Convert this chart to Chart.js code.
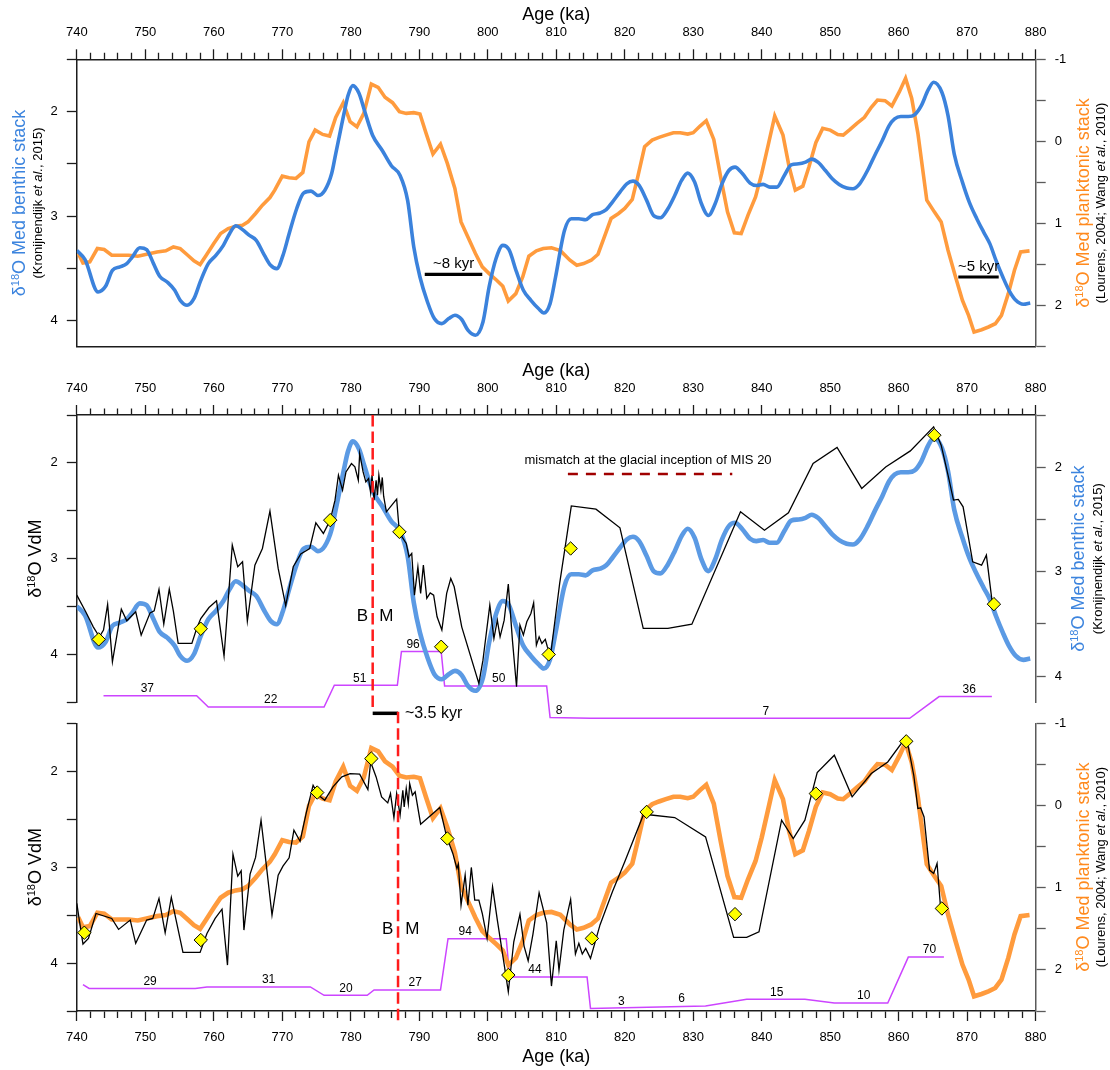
<!DOCTYPE html>
<html>
<head>
<meta charset="utf-8">
<title>δ18O records 740–880 ka</title>
<script src="https://cdn.jsdelivr.net/npm/chart.js@4.4.1/dist/chart.umd.min.js"></script>
<style>
  html, body { margin: 0; padding: 0; background: #fff; }
  #wrap { position: relative; width: 1110px; height: 1070px; }
  #wrap canvas { position: absolute; left: 0; top: 0; }
</style>
</head>
<body>
<div id="wrap">
  <canvas id="panelTop" width="1110" height="1070"></canvas>
  <canvas id="panelMid" width="1110" height="1070"></canvas>
  <canvas id="panelBot" width="1110" height="1070"></canvas>
</div>
<script>
// ---------------- data ----------------
// Mediterranean benthic stack (Kronijnendijk et al., 2015)
const benthicAge = [740.0, 741.2, 743.1, 744.2, 745.2, 746.3, 747.3, 748.1, 749.2, 750.2, 751.2, 752.1, 753.2, 754.3, 755.1, 756.1, 757.1, 758.1, 759.2, 760.3, 761.4, 762.3, 763.2, 764.2, 765.2, 766.2, 767.4, 768.3, 769.2, 770.1, 771.0, 772.1, 773.1, 774.2, 775.2, 776.2, 777.2, 777.8, 778.4, 779.1, 779.6, 780.3, 781.2, 782.0, 783.2, 784.6, 785.9, 787.2, 788.3, 789.2, 790.1, 791.2, 792.2, 793.3, 794.3, 795.2, 796.2, 797.1, 798.2, 799.3, 800.2, 801.2, 802.2, 803.1, 804.2, 805.2, 806.3, 807.4, 808.2, 809.1, 809.9, 811.2, 812.2, 813.3, 814.3, 815.3, 816.4, 817.3, 818.2, 819.3, 820.3, 821.2, 822.1, 823.2, 824.2, 825.2, 826.3, 827.3, 828.3, 829.2, 830.2, 831.2, 832.2, 833.2, 834.2, 835.2, 836.1, 837.2, 838.3, 839.2, 840.2, 841.2, 842.2, 843.3, 844.3, 845.4, 846.4, 847.3, 848.2, 849.3, 850.3, 851.3, 852.4, 853.3, 854.3, 855.5, 856.5, 857.6, 858.6, 859.4, 860.3, 861.4, 862.3, 863.3, 864.3, 865.1, 866.3, 867.2, 868.1, 869.3, 870.3, 871.4, 872.4, 873.3, 874.2, 875.2, 876.1, 877.1, 878.2, 879.2];
const benthicD18O = [3.33, 3.417, 3.726, 3.672, 3.519, 3.487, 3.455, 3.392, 3.303, 3.322, 3.455, 3.576, 3.631, 3.710, 3.806, 3.853, 3.79, 3.615, 3.455, 3.376, 3.28, 3.169, 3.092, 3.13, 3.185, 3.232, 3.376, 3.471, 3.503, 3.376, 3.169, 2.93, 2.78, 2.761, 2.803, 2.755, 2.596, 2.404, 2.213, 1.99, 1.847, 1.752, 1.825, 1.99, 2.229, 2.373, 2.516, 2.611, 2.85, 3.296, 3.583, 3.822, 3.981, 4.029, 3.981, 3.949, 3.99, 4.092, 4.14, 4.013, 3.678, 3.408, 3.28, 3.322, 3.535, 3.71, 3.806, 3.885, 3.927, 3.838, 3.583, 3.137, 3.025, 3.025, 3.035, 2.987, 2.971, 2.939, 2.866, 2.771, 2.691, 2.666, 2.707, 2.85, 2.994, 3.016, 2.93, 2.803, 2.659, 2.589, 2.675, 2.882, 2.994, 2.882, 2.691, 2.564, 2.532, 2.596, 2.685, 2.707, 2.697, 2.723, 2.723, 2.611, 2.51, 2.5, 2.484, 2.455, 2.484, 2.564, 2.643, 2.697, 2.732, 2.739, 2.691, 2.557, 2.42, 2.277, 2.134, 2.07, 2.048, 2.048, 2.032, 1.943, 1.793, 1.72, 1.815, 2.038, 2.404, 2.675, 2.866, 3.025, 3.153, 3.264, 3.424, 3.583, 3.71, 3.806, 3.844, 3.831];

// Mediterranean planktonic stack (Lourens, 2004; Wang et al., 2010)
const planktonicAge = [740.2, 740.9, 741.9, 743.0, 744.0, 745.1, 746.3, 747.6, 748.9, 750.2, 751.7, 753.0, 754.1, 755.1, 756.2, 757.1, 758.0, 758.9, 760.0, 761.0, 762.1, 763.2, 764.2, 765.0, 766.1, 767.1, 768.2, 768.9, 770.0, 771.0, 772.0, 773.0, 773.9, 774.8, 775.9, 776.9, 777.8, 778.9, 779.9, 780.9, 781.9, 783.0, 784.0, 785.0, 786.1, 787.1, 788.1, 789.2, 790.1, 791.0, 792.0, 793.1, 794.1, 795.2, 796.1, 797.1, 798.2, 799.2, 800.2, 801.3, 802.2, 803.0, 804.1, 805.1, 806.0, 807.1, 808.1, 809.3, 810.6, 812.0, 813.0, 814.0, 815.1, 816.1, 817.2, 818.0, 819.1, 820.0, 821.1, 821.9, 822.9, 824.0, 825.0, 826.0, 827.1, 828.1, 829.2, 830.0, 831.0, 831.9, 833.0, 834.0, 835.0, 836.0, 837.0, 838.0, 839.1, 840.0, 841.0, 841.9, 843.1, 844.0, 844.9, 846.0, 846.9, 847.9, 848.9, 850.0, 851.1, 851.9, 852.9, 853.9, 855.0, 856.0, 856.9, 858.0, 859.0, 860.1, 861.0, 861.9, 862.8, 864.1, 865.2, 866.2, 867.2, 868.3, 869.3, 870.2, 871.0, 872.1, 873.1, 874.1, 875.0, 876.0, 876.9, 877.8, 879.1];
const planktonicD18O = [1.36, 1.48, 1.467, 1.305, 1.317, 1.386, 1.386, 1.386, 1.398, 1.374, 1.346, 1.333, 1.285, 1.305, 1.386, 1.455, 1.5, 1.386, 1.244, 1.122, 1.061, 1.033, 1.02, 0.98, 0.878, 0.776, 0.683, 0.593, 0.423, 0.443, 0.451, 0.378, 0.004, -0.138, -0.085, -0.065, -0.293, -0.472, -0.24, -0.179, -0.341, -0.699, -0.659, -0.537, -0.472, -0.362, -0.341, -0.35, -0.333, -0.098, 0.154, 0.033, 0.268, 0.573, 0.98, 1.163, 1.366, 1.528, 1.61, 1.691, 1.764, 1.943, 1.854, 1.65, 1.398, 1.333, 1.305, 1.295, 1.33, 1.447, 1.508, 1.488, 1.447, 1.374, 1.122, 0.939, 0.878, 0.817, 0.707, 0.431, 0.065, -0.016, -0.049, -0.077, -0.106, -0.106, -0.089, -0.106, -0.187, -0.252, -0.024, 0.431, 0.858, 1.114, 1.122, 0.898, 0.675, 0.39, 0.024, -0.309, -0.077, 0.309, 0.593, 0.545, 0.309, 0.016, -0.159, -0.138, -0.085, -0.077, -0.146, -0.22, -0.293, -0.415, -0.504, -0.496, -0.431, -0.606, -0.768, -0.524, -0.098, 0.715, 0.858, 0.98, 1.325, 1.65, 1.935, 2.118, 2.321, 2.293, 2.26, 2.22, 2.118, 1.854, 1.569, 1.346, 1.333];

// Valle di Manche record on the benthic-tuned age model
const vdmBAge = [740.0, 741.3, 742.4, 743.3, 743.9, 744.5, 745.2, 745.9, 746.5, 747.3, 748.6, 749.4, 750.7, 751.3, 752.0, 752.7, 753.5, 754.1, 754.8, 756.8, 757.5, 758.1, 759.3, 760.4, 761.5, 762.7, 763.5, 764.2, 764.9, 766.0, 767.1, 768.2, 769.4, 770.5, 771.6, 772.7, 774.0, 774.9, 776.0, 777.0, 777.7, 778.2, 778.8, 779.3, 780.1, 780.6, 781.1, 781.3, 781.8, 782.2, 782.6, 782.9, 783.1, 783.4, 783.7, 783.9, 784.1, 784.4, 784.6, 784.8, 785.2, 786.7, 787.1, 788.1, 788.5, 788.9, 789.3, 789.8, 790.2, 790.6, 791.1, 791.6, 792.1, 792.6, 793.3, 794.0, 794.6, 795.1, 796.2, 798.7, 799.3, 800.3, 800.9, 801.4, 801.8, 802.4, 803.0, 803.6, 804.2, 804.7, 805.2, 805.7, 806.3, 806.7, 807.1, 807.5, 807.9, 808.4, 808.7, 809.2, 810.5, 811.6, 812.2, 815.8, 819.3, 822.7, 826.3, 829.8, 836.9, 840.4, 843.9, 847.5, 851.0, 854.6, 858.1, 861.7, 865.1, 866.2, 867.2, 868.0, 868.7, 869.4, 870.8, 872.1, 872.8, 873.7];
const vdmBD18O = [3.381, 3.555, 3.712, 3.816, 3.746, 3.478, 4.077, 3.781, 3.527, 3.649, 3.555, 3.798, 3.566, 3.545, 3.322, 3.684, 3.318, 3.548, 3.885, 3.885, 3.729, 3.625, 3.51, 3.44, 4.018, 2.859, 3.085, 3.033, 3.652, 3.068, 2.894, 2.504, 3.102, 3.49, 3.085, 2.95, 2.894, 2.626, 2.737, 2.598, 2.389, 2.128, 2.285, 2.094, 2.007, 2.042, 2.181, 1.902, 2.094, 2.198, 2.163, 2.313, 2.128, 2.389, 2.181, 2.337, 2.128, 2.285, 2.152, 2.348, 2.511, 2.379, 2.73, 2.841, 2.981, 2.946, 3.381, 3.085, 3.363, 3.068, 3.415, 3.357, 3.381, 3.607, 3.746, 3.363, 3.207, 3.294, 3.712, 4.303, 4.06, 3.485, 3.833, 3.642, 3.816, 3.642, 3.266, 3.851, 4.338, 3.694, 3.798, 3.659, 3.572, 3.461, 3.903, 3.816, 3.885, 3.843, 3.92, 3.99, 3.259, 2.737, 2.449, 2.483, 2.678, 3.729, 3.729, 3.684, 2.511, 2.703, 2.522, 2.007, 1.839, 2.267, 2.042, 1.875, 1.624, 1.815, 2.128, 2.389, 2.382, 2.459, 3.033, 3.068, 2.963, 3.485];

// Valle di Manche record on the planktonic-tuned age model
const vdmPAge = [740.0, 740.4, 740.9, 741.7, 742.8, 745.1, 746.1, 747.8, 748.6, 750.2, 751.1, 752.0, 752.9, 753.8, 754.5, 755.5, 758.0, 759.0, 760.2, 761.2, 762.0, 762.8, 763.5, 764.0, 764.4, 765.3, 766.1, 766.9, 767.7, 768.5, 769.4, 770.1, 771.0, 771.7, 772.6, 773.5, 774.5, 775.3, 776.2, 777.4, 778.7, 779.9, 781.3, 782.5, 782.9, 783.7, 784.5, 785.4, 785.8, 786.3, 786.7, 787.2, 787.6, 787.8, 788.1, 788.4, 788.6, 789.0, 789.4, 790.2, 793.0, 794.0, 794.9, 795.5, 795.7, 796.1, 796.7, 797.1, 797.6, 798.1, 798.7, 799.2, 799.9, 800.7, 801.4, 802.3, 803.0, 803.8, 804.7, 805.3, 805.9, 806.6, 807.5, 808.6, 809.3, 810.0, 810.4, 811.1, 812.1, 812.8, 813.3, 813.8, 814.3, 815.0, 816.4, 818.2, 820.0, 822.7, 823.2, 827.3, 831.8, 835.9, 837.8, 839.6, 842.9, 844.6, 846.3, 848.1, 850.6, 853.2, 856.0, 858.4, 860.9, 861.4, 862.2, 862.8, 863.2, 863.7, 864.5, 865.1, 865.6, 866.1];
const vdmPD18O = [3.378, 3.569, 3.802, 3.743, 3.483, 3.535, 3.649, 3.552, 3.795, 3.552, 3.535, 3.326, 3.684, 3.316, 3.552, 3.889, 3.889, 3.691, 3.535, 3.438, 4.021, 2.865, 3.094, 3.038, 3.656, 3.073, 2.899, 2.51, 2.997, 3.5, 3.083, 2.99, 2.903, 2.615, 2.73, 2.434, 2.146, 2.25, 2.302, 2.163, 2.059, 2.024, 2.031, 2.191, 1.903, 2.059, 2.267, 2.33, 2.233, 2.483, 2.233, 2.458, 2.198, 2.372, 2.181, 2.337, 2.128, 2.25, 2.215, 2.552, 2.378, 2.684, 2.857, 3.014, 2.969, 3.396, 3.083, 3.396, 3.003, 3.344, 3.344, 3.483, 3.743, 3.205, 3.552, 3.969, 4.299, 3.778, 3.49, 3.823, 3.976, 3.698, 3.267, 3.58, 4.24, 3.767, 4.073, 3.656, 3.337, 3.906, 3.795, 3.906, 3.847, 3.951, 3.6, 3.257, 2.944, 2.458, 2.451, 2.483, 2.684, 3.733, 3.733, 3.674, 2.51, 2.701, 2.51, 2.014, 1.833, 2.267, 2.024, 1.903, 1.66, 1.747, 2.042, 2.389, 2.382, 2.476, 3.031, 3.066, 2.962, 3.413];

// tie points
const tiesBAge = [743.2, 758.1, 777.0, 787.1, 793.2, 808.9, 812.1, 865.2, 873.9];
const tiesBVal = [3.843, 3.732, 2.598, 2.72, 3.92, 4.0, 2.894, 1.711, 3.475];
const tiesPAge = [741.1, 758.1, 775.1, 783.0, 794.1, 803.0, 815.2, 823.2, 836.1, 847.9, 861.1, 866.3];
const tiesPVal = [3.684, 3.76, 2.222, 1.868, 2.701, 4.125, 3.743, 2.424, 3.49, 2.233, 1.688, 3.431];

// sedimentation rates (cm/kyr)
const rateBAge = [743.9, 757.5, 759.2, 776.1, 777.6, 786.8, 787.4, 793.2, 793.7, 808.6, 809.1, 815.0, 861.6, 865.9, 873.6];
const rateBVal = [37, 37, 22, 22, 51, 51, 96, 96, 50, 50, 8, 7, 7, 36, 36];
const rateBLabelAge = [750.3, 768.3, 781.3, 789.1, 801.6, 810.4, 840.6, 870.3];
const rateBLabel = [37, 22, 51, 96, 50, 8, 7, 36];
const ratePAge = [740.9, 741.8, 757.3, 759.0, 774.1, 776.1, 782.4, 783.4, 793.1, 794.2, 802.7, 803.2, 814.5, 815.0, 831.8, 837.8, 846.3, 850.6, 858.4, 861.4, 866.6];
const ratePVal = [34, 29, 29, 31, 31, 20, 20, 27, 27, 94, 94, 44, 44, 3, 6, 15, 15, 10, 10, 70, 70];
const ratePLabelAge = [750.7, 768.0, 779.3, 789.4, 796.7, 806.9, 819.5, 828.3, 842.2, 854.9, 864.5];
const ratePLabel = [29, 31, 20, 27, 94, 44, 3, 6, 15, 10, 70];

// Brunhes/Matuyama boundary on each age model (ka)
const bmAgeB = 783.2;
const bmAgeP = 786.9;

// lags between the stacks
const lagStart = [790.8, 868.7];
const lagEnd = [799.2, 874.6];
const lagLevel = [3.557, 3.583];
const lagText = ['~8 kyr', '~5 kyr'];
const bmLagLevel = 4.615;

// MIS 20 mismatch interval
const mismatchAge = [811.7, 835.7];
const mismatchLevel = 2.115;

// ---------------- styling ----------------
const AGE_MIN = 740, AGE_MAX = 880;
const FONT = "'Liberation Sans', Arial, Helvetica, sans-serif";
const AXIS = '#1c1c1c', AXIS_R = '#5a5a5a';
const BLUE = '#3b82dc', BLUE_MID = '#5b9ae4', BLUE_T = '#3c84de';
const ORANGE = '#ff9b3d', ORANGE_T = '#ff8a1e';
const PURPLE = '#cc44ff', RED = '#ff1c1c', DARKRED = '#a00000', YELLOW = '#ffff00';

Chart.defaults.font.family = FONT;
Chart.defaults.color = '#000';

const pts = (xs, ys) => xs.map((x, i) => ({ x, y: ys[i] }));
const isWhole = v => Math.abs(v - Math.round(v)) < 1e-6;
const f = (size, style) => (style ? style + ' ' : '') + size + 'px ' + FONT;

function ageAxis(position, boxHeight, titlePad) {
  return {
    type: 'linear', position, min: AGE_MIN, max: AGE_MAX,
    afterFit: s => { s.height = boxHeight; },
    ticks: {
      stepSize: 2, autoSkip: false, maxRotation: 0, minRotation: 0, padding: 9,
      font: { size: 13 }, color: '#000',
      callback: v => (Math.round(v) % 10 === 0 ? String(Math.round(v)) : '')
    },
    grid: {
      drawOnChartArea: false, drawTicks: true, tickLength: 10, tickColor: AXIS, tickWidth: 1.3,
      // minor ticks are drawn as a 6-7 px stub next to the axis line
      tickBorderDash: c => (c.tick && Math.round(c.tick.value) % 10 === 0) ? [] :
        (position === 'top' ? [0, 3.5, 7, 100] : [6.5, 100])
    },
    border: { display: true, color: AXIS, width: 1.5 },
    title: { display: true, text: 'Age (ka)', font: { size: 18 }, color: '#000', padding: titlePad }
  };
}

function valueAxis(position, min, max, width, color) {
  return {
    type: 'linear', position, min, max, reverse: true,
    afterFit: s => { s.width = width; },
    ticks: {
      stepSize: 0.5, includeBounds: false, padding: 9, font: { size: 13 }, color: '#000',
      callback: v => (isWhole(v) ? String(Math.round(v)) : '')
    },
    grid: { drawOnChartArea: false, drawTicks: true, tickLength: 10, tickColor: color, tickWidth: 1.3 },
    border: { display: true, color, width: 1.5 }
  };
}

function hiddenAxis(min, max) {
  return { type: 'linear', axis: 'y', position: 'left', display: false, min, max };
}

function line(data, yAxisID, color, width, order, extra) {
  return Object.assign({
    type: 'line', data, xAxisID: 'x', yAxisID, borderColor: color, borderWidth: width,
    pointRadius: 0, pointHoverRadius: 0, fill: false, tension: 0, order
  }, extra || {});
}

function ties(data, order) {
  return {
    type: 'line', data, xAxisID: 'x', yAxisID: 'y', showLine: false,
    pointStyle: 'rectRot', pointRadius: 6.7, pointHoverRadius: 6.7,
    pointBackgroundColor: YELLOW, pointBorderColor: '#000', pointBorderWidth: 1,
    order, clip: false
  };
}

function vertical(age, from, to, order) {
  return line([{ x: age, y: from }, { x: age, y: to }], 'y', RED, 2.5, order,
    { borderDash: [11.5, 5], clip: false });
}

// rotated axis captions made of several styled runs
function richRotated(ctx, x, y, parts) {
  ctx.save();
  ctx.translate(x, y);
  ctx.rotate(-Math.PI / 2);
  ctx.textBaseline = 'middle';
  ctx.textAlign = 'left';
  let total = 0;
  const widths = parts.map(p => { ctx.font = p.font; const w = ctx.measureText(p.t).width; total += w; return w; });
  let cx = -total / 2;
  parts.forEach((p, i) => {
    ctx.font = p.font; ctx.fillStyle = p.color;
    ctx.fillText(p.t, cx, p.dy || 0);
    cx += widths[i];
  });
  ctx.restore();
}
function isoTitle(rest, color) {
  return [
    { t: 'δ', font: f(18), color },
    { t: '18', font: f(11), color, dy: -3.6 },
    { t: 'O ' + rest, font: f(18), color }
  ];
}
function cite(before, after) {
  return [
    { t: before, font: f(13), color: '#000' },
    { t: 'et al.', font: f(13, 'italic'), color: '#000' },
    { t: after, font: f(13), color: '#000' }
  ];
}

function decor(cfg) {
  return {
    id: 'decor',
    afterDatasetsDraw(chart) {
      const { ctx, chartArea: ca, scales } = chart;
      (cfg.titles || []).forEach(t => richRotated(ctx,
        t.side === 'left' ? ca.left - t.dx : ca.right + t.dx, (ca.top + ca.bottom) / 2, t.parts));
      ctx.save();
      ctx.textBaseline = 'middle';
      (cfg.labels || []).forEach(l => {
        ctx.font = f(l.size);
        ctx.fillStyle = l.color || '#000';
        ctx.textAlign = l.align || 'center';
        ctx.fillText(l.text, scales.x.getPixelForValue(l.x),
          scales[l.axis].getPixelForValue(l.y) + (l.dy || 0));
      });
      ctx.restore();
    }
  };
}

function rateLabels(ages, values) {
  return ages.map((a, i) => ({ text: String(values[i]), x: a, y: values[i], axis: 'rate', dy: -7, size: 12 }));
}

const common = { responsive: false, animation: false, devicePixelRatio: 1, events: [],
  plugins: { legend: { display: false }, tooltip: { enabled: false } } };

// ---------------- top panel: the two stacks ----------------
new Chart(document.getElementById('panelTop'), {
  type: 'line',
  data: { datasets: [
    line([{ x: lagStart[0], y: lagLevel[0] }, { x: lagEnd[0], y: lagLevel[0] }], 'y', '#000', 3.2, 0),
    line([{ x: lagStart[1], y: lagLevel[1] }, { x: lagEnd[1], y: lagLevel[1] }], 'y', '#000', 3.2, 0),
    line(pts(benthicAge, benthicD18O), 'y', BLUE, 3.6, 1, { cubicInterpolationMode: 'monotone' }),
    line(pts(planktonicAge, planktonicD18O), 'yr', ORANGE, 3.6, 2)
  ] },
  options: Object.assign({}, common, {
    layout: { padding: { left: 0, right: 0, top: 0, bottom: 723.3 } },
    scales: {
      x: ageAxis('top', 59.3, { top: 4.2, bottom: 0 }),
      xb: { type: 'linear', position: 'bottom', min: AGE_MIN, max: AGE_MAX,
        afterFit: s => { s.height = 0; },
        ticks: { display: false }, grid: { display: false, drawTicks: false },
        border: { display: true, color: AXIS, width: 1.5 } },
      y: valueAxis('left', 1.5, 4.25, 76.8, AXIS),
      yr: valueAxis('right', -1, 2.5, 74.3, AXIS_R)
    }
  }),
  plugins: [decor({
    titles: [
      { side: 'left', dx: 56.8, parts: isoTitle('Med benthic stack', BLUE_T) },
      { side: 'left', dx: 38.5, parts: cite('(Kronijnendijk ', ', 2015)') },
      { side: 'right', dx: 48.3, parts: isoTitle('Med planktonic stack', ORANGE_T) },
      { side: 'right', dx: 66, parts: cite('(Lourens, 2004; Wang ', ', 2010)') }
    ],
    labels: lagText.map((t, i) => ({ text: t, x: (lagStart[i] + lagEnd[i]) / 2, y: lagLevel[i],
      axis: 'y', dy: -10.5, size: 15 }))
  })]
});

// ---------------- middle panel: VdM vs benthic stack ----------------
new Chart(document.getElementById('panelMid'), {
  type: 'line',
  data: { datasets: [
    ties(pts(tiesBAge, tiesBVal), 0),
    vertical(bmAgeB, 1.5, 4.55, 1),
    line(pts(vdmBAge, vdmBD18O), 'y', '#000', 1.3, 2),
    line(pts(benthicAge, benthicD18O), 'yr', BLUE_MID, 4.6, 3, { cubicInterpolationMode: 'monotone' }),
    line(pts(rateBAge, rateBVal), 'rate', PURPLE, 1.5, 4, { clip: false }),
    line([{ x: mismatchAge[0], y: mismatchLevel }, { x: mismatchAge[1], y: mismatchLevel }], 'y', DARKRED, 2.5, 5,
      { borderDash: [10, 8] }),
    line([{ x: bmAgeB, y: bmLagLevel }, { x: bmAgeP, y: bmLagLevel }], 'y', '#000', 3.5, 6, { clip: false })
  ] },
  options: Object.assign({}, common, {
    layout: { padding: { left: 0, right: 0, top: 355.7, bottom: 367.7 } },
    scales: {
      x: ageAxis('top', 59.3, { top: 4.2, bottom: 0 }),
      y: valueAxis('left', 1.5, 4.5, 76.8, AXIS),
      yr: valueAxis('right', 1.5, 4.25, 74.3, AXIS_R),
      rate: hiddenAxis(28.3, 411.4)
    }
  }),
  plugins: [decor({
    titles: [
      { side: 'left', dx: 41, parts: isoTitle('VdM', '#000') },
      { side: 'right', dx: 42.9, parts: isoTitle('Med benthic stack', BLUE_T) },
      { side: 'right', dx: 62.3, parts: cite('(Kronijnendijk ', ', 2015)') }
    ],
    labels: [
      { text: 'mismatch at the glacial inception of MIS 20', x: 823.4, y: mismatchLevel, axis: 'y', dy: -13, size: 13 },
      { text: 'B', x: bmAgeB - 1.5, y: 3.607, axis: 'y', size: 17 },
      { text: 'M', x: bmAgeB + 2.0, y: 3.607, axis: 'y', size: 17 },
      { text: '~3.5 kyr', x: bmAgeP + 1.0, y: bmLagLevel, axis: 'y', size: 16, align: 'left' }
    ].concat(rateLabels(rateBLabelAge, rateBLabel))
  })]
});

// ---------------- bottom panel: VdM vs planktonic stack ----------------
new Chart(document.getElementById('panelBot'), {
  type: 'line',
  data: { datasets: [
    ties(pts(tiesPAge, tiesPVal), 0),
    vertical(bmAgeP, 1.38, 4.6, 1),
    line(pts(vdmPAge, vdmPD18O), 'y', '#000', 1.3, 2),
    line(pts(planktonicAge, planktonicD18O), 'yr', ORANGE, 4.6, 3),
    line(pts(ratePAge, ratePVal), 'rate', PURPLE, 1.5, 4, { clip: false })
  ] },
  options: Object.assign({}, common, {
    layout: { padding: { left: 0, right: 0, top: 723.3, bottom: 0 } },
    scales: {
      x: ageAxis('bottom', 59, { top: 0, bottom: 2.5 }),
      y: valueAxis('left', 1.5, 4.5, 76.8, AXIS),
      yr: valueAxis('right', -1, 2.5, 74.3, AXIS_R),
      rate: hiddenAxis(-0.4, 375.2)
    }
  }),
  plugins: [decor({
    titles: [
      { side: 'left', dx: 41, parts: isoTitle('VdM', '#000') },
      { side: 'right', dx: 48.3, parts: isoTitle('Med planktonic stack', ORANGE_T) },
      { side: 'right', dx: 66, parts: cite('(Lourens, 2004; Wang ', ', 2010)') }
    ],
    labels: [
      { text: 'B', x: bmAgeP - 1.5, y: 3.649, axis: 'y', size: 17 },
      { text: 'M', x: bmAgeP + 2.1, y: 3.649, axis: 'y', size: 17 }
    ].concat(rateLabels(ratePLabelAge, ratePLabel))
  })]
});
</script>
</body>
</html>
